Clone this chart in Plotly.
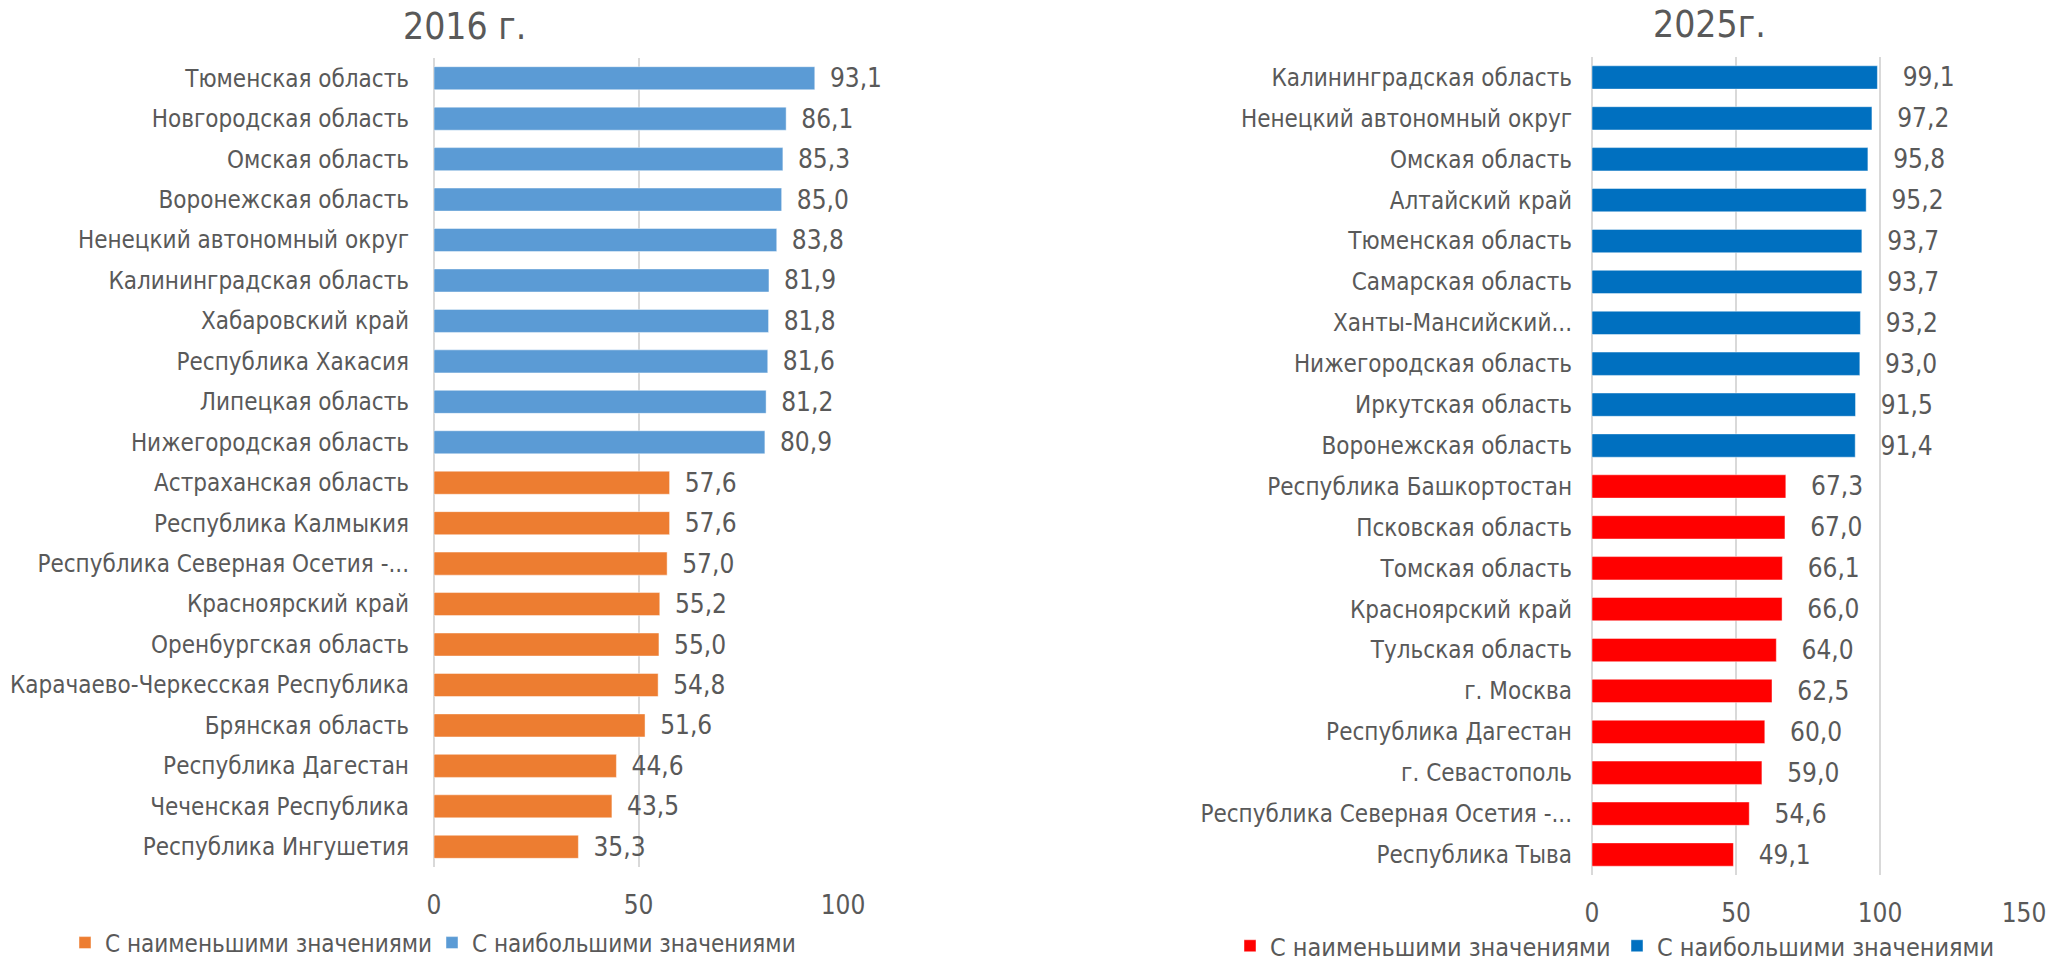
import plotly.graph_objects as go

# ---- 2016 ----
cats16_high = ["Тюменская область", "Новгородская область", "Омская область", "Воронежская область",
               "Ненецкий автономный округ", "Калининградская область", "Хабаровский край",
               "Республика Хакасия", "Липецкая область", "Нижегородская область"]
vals16_high = [93.1, 86.1, 85.3, 85.0, 83.8, 81.9, 81.8, 81.6, 81.2, 80.9]
cats16_low = ["Астраханская область", "Республика Калмыкия", "Республика Северная Осетия -...",
              "Красноярский край", "Оренбургская область", "Карачаево-Черкесская Республика",
              "Брянская область", "Республика Дагестан", "Чеченская Республика", "Республика Ингушетия"]
vals16_low = [57.6, 57.6, 57.0, 55.2, 55.0, 54.8, 51.6, 44.6, 43.5, 35.3]

# ---- 2025 ----
cats25_high = ["Калининградская область", "Ненецкий автономный округ", "Омская область", "Алтайский край",
               "Тюменская область", "Самарская область", "Ханты-Мансийский...", "Нижегородская область",
               "Иркутская область", "Воронежская область"]
vals25_high = [99.1, 97.2, 95.8, 95.2, 93.7, 93.7, 93.2, 93.0, 91.5, 91.4]
cats25_low = ["Республика Башкортостан", "Псковская область", "Томская область", "Красноярский край",
              "Тульская область", "г. Москва", "Республика Дагестан", "г. Севастополь",
              "Республика Северная Осетия -...", "Республика Тыва"]
vals25_low = [67.3, 67.0, 66.1, 66.0, 64.0, 62.5, 60.0, 59.0, 54.6, 49.1]

ticks16 = [0, 50, 100]
ticks25 = [0, 50, 100, 150]

series_low = "С наименьшими значениями"
series_high = "С наибольшими значениями"

FONT = "Liberation Sans Narrow, DejaVu Sans Condensed, Arial Narrow, sans-serif"
TXT = "#595959"
GRID = "#D9D9D9"

fig = go.Figure()

def add(x, y, name, color, xa, ya, legend, pad):
    fig.add_trace(go.Bar(
        x=x, y=y, orientation="h", name=name, xaxis=xa, yaxis=ya, legend=legend,
        marker=dict(color=color, line=dict(color="rgba(255,255,255,0.45)", width=1)),
        width=0.57,
        texttemplate=pad + "%{x:.1f}", textposition="outside", cliponaxis=False,
        constraintext="none",
        textfont=dict(family=FONT, size=26, color=TXT),
        hoverinfo="skip",
    ))

PAD16 = "\u00a0\u2009"
PAD25 = "\u00a0\u00a0\u00a0"
add(vals16_low, cats16_low, series_low, "#ED7D31", "x", "y", "legend", PAD16)
add(vals16_high, cats16_high, series_high, "#5B9BD5", "x", "y", "legend", PAD16)
add(vals25_low, cats25_low, series_low, "#FF0000", "x2", "y2", "legend2", PAD25)
add(vals25_high, cats25_high, series_high, "#0070C0", "x2", "y2", "legend2", PAD25)

catfont = dict(family=FONT, size=24, color=TXT)
tickfont = dict(family=FONT, size=26, color=TXT)

fig.update_layout(
    width=2049, height=960,
    margin=dict(l=0, r=0, t=0, b=0, autoexpand=False),
    paper_bgcolor="white", plot_bgcolor="white",
    barmode="overlay",
    separators=", ",
    font=dict(family=FONT, size=26, color=TXT),
    xaxis=dict(domain=[434/2049, 843/2049], range=[0, 100], tickvals=ticks16,
               showgrid=True, gridcolor=GRID, gridwidth=1.5, zeroline=True, zerolinecolor=GRID,
               zerolinewidth=1.5, tickfont=tickfont, anchor="y", ticks="", ticklabelstandoff=20,
               fixedrange=True, automargin=False),
    yaxis=dict(domain=[1-867/960, 1-58/960], type="category",
               categoryarray=cats16_high + cats16_low, categoryorder="array",
               autorange="reversed", tickfont=catfont, anchor="x", automargin=False,
               ticks="", ticklabelstandoff=24, showgrid=False, fixedrange=True),
    xaxis2=dict(domain=[1592/2049, 2024/2049], range=[0, 150], tickvals=ticks25,
                showgrid=True, gridcolor=GRID, gridwidth=1.5, zeroline=True, zerolinecolor=GRID,
                zerolinewidth=1.5, tickfont=tickfont, anchor="y2", ticks="", ticklabelstandoff=20,
                fixedrange=True, automargin=False),
    yaxis2=dict(domain=[1-875/960, 1-57/960], type="category",
                categoryarray=cats25_high + cats25_low, categoryorder="array",
                autorange="reversed", tickfont=catfont, anchor="x2", automargin=False,
                ticks="", ticklabelstandoff=19, showgrid=False, fixedrange=True),
    legend=dict(orientation="h", x=65/2049, xanchor="left", y=1-943/960, yanchor="middle",
                font=dict(family=FONT, size=24, color=TXT), traceorder="normal",
                itemwidth=30, entrywidth=322, entrywidthmode="pixels", bgcolor="rgba(0,0,0,0)"),
    legend2=dict(orientation="h", x=1230/2049, xanchor="left", y=1-946/960, yanchor="middle",
                 font=dict(family=FONT, size=25, color=TXT), traceorder="normal",
                 itemwidth=30, entrywidth=342, entrywidthmode="pixels", bgcolor="rgba(0,0,0,0)"),
    annotations=[
        dict(text="2016 г.", x=464/2049, y=1-26/960, xref="paper", yref="paper",
             showarrow=False, font=dict(family=FONT, size=37, color=TXT), xanchor="center", yanchor="middle"),
        dict(text="2025г.", x=1709/2049, y=1-24/960, xref="paper", yref="paper",
             showarrow=False, font=dict(family=FONT, size=37, color=TXT), xanchor="center", yanchor="middle"),
    ],
)

fig.write_html("out.html", config={"displayModeBar": False},
               post_script="document.body.style.margin='0';document.body.style.overflow='hidden';")
